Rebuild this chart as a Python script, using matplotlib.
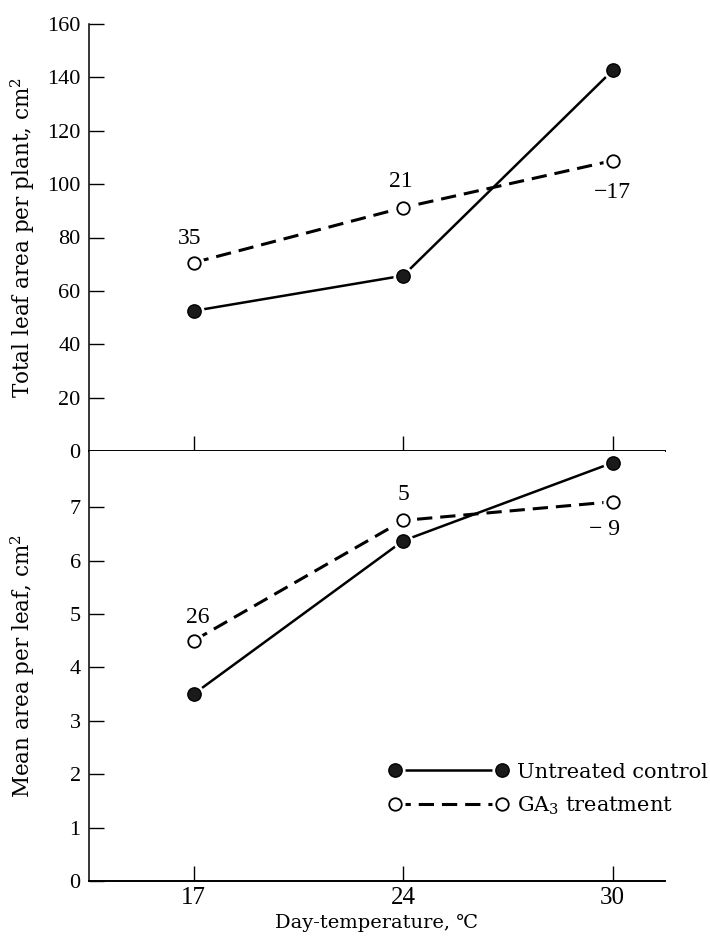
import numpy as np
import matplotlib
matplotlib.use("Agg")
import matplotlib.pyplot as plt
from matplotlib.legend_handler import HandlerTuple

plt.rcParams["font.family"] = ["DejaVu Serif", "DejaVu Sans"]
plt.rcParams["mathtext.fontset"] = "dejavuserif"

# ---------------------------------------------------------------------------
# data
# ---------------------------------------------------------------------------
temps = ["17", "24", "30"]
total_ctrl = [52.5, 65.7, 142.6]      # total leaf area per plant, cm2
total_ga3 = [70.6, 91.2, 108.8]
total_pct = ["35", "21", "\u221217"]
mean_ctrl = [3.5, 6.37, 7.83]         # mean area per leaf, cm2
mean_ga3 = [4.5, 6.75, 7.1]
mean_pct = ["26", "5", "\u2212 9"]

NUMFONT = "Liberation Serif"
pos = np.arange(len(temps))

fig = plt.figure(figsize=(7.1, 9.43), dpi=100)
L, W = 89 / 710, 576 / 710
ax1 = fig.add_axes([L, 1 - 451 / 943, W, 427 / 943])
ax2 = fig.add_axes([L, 1 - 881 / 943, W, 430 / 943])


def draw(ax, yc, yg):
    lc, = ax.plot(pos, yc, "-", color="black", lw=1.8, zorder=2)
    lg, = ax.plot(pos, yg, "--", color="black", lw=2.2, dashes=(5, 2.6), zorder=2)
    halo, = ax.plot(pos, yc, "o", ms=13.5, color="white", zorder=3)
    ax.plot(pos, yg, "o", ms=13.5, color="white", zorder=3)
    mc, = ax.plot(pos, yc, "o", ms=9.6, mfc="#1a1a1a", mec="black", mew=1, zorder=4)
    mg, = ax.plot(pos, yg, "o", ms=9.0, mfc="white", mec="black", mew=1.3, zorder=4)
    return (lc, halo, mc), (lg, halo, mg)


def style(ax):
    ax.set_xlim(-0.5, 2.25)
    ax.spines["top"].set_visible(False)
    ax.spines["right"].set_visible(False)
    ax.spines["left"].set_linewidth(1.1)
    ax.spines["bottom"].set_linewidth(1.4)
    ax.set_xticks(pos)
    ax.tick_params(direction="in", length=11, width=1, labelsize=16, pad=6)
    ax.tick_params(axis="x", labelsize=18, pad=4)
    for t in ax.get_yticklabels() + ax.get_xticklabels():
        t.set_fontfamily(NUMFONT)


# top panel ---------------------------------------------------------------
draw(ax1, total_ctrl, total_ga3)
ax1.set_ylim(0, 160)
ax1.set_yticks(np.arange(0, 161, 20))
style(ax1)
ax1.tick_params(axis="x", labelbottom=False)
ax1.set_ylabel("Total leaf area per plant, cm$^2$", fontsize=15.5)
ax1.yaxis.set_label_coords(-0.09, 0.5)
offs1 = [(-3, 17), (-2, 19), (0, -23)]
for x, y, s, o in zip(pos, total_ga3, total_pct, offs1):
    ax1.annotate(s, (x, y), xytext=o, textcoords="offset points",
                 ha="center", va="center", fontsize=17, family=NUMFONT)

# bottom panel --------------------------------------------------------------
hc, hg = draw(ax2, mean_ctrl, mean_ga3)
ax2.set_ylim(0, 8.05)
ax2.set_yticks(np.arange(0, 8))
style(ax2)
ax2.set_xticklabels(temps)
for t in ax2.get_xticklabels():
    t.set_fontfamily(NUMFONT)
ax2.set_ylabel("Mean area per leaf, cm$^2$", fontsize=15.5)
ax2.yaxis.set_label_coords(-0.09, 0.5)
ax2.set_xlabel("Day-temperature, \u2103", fontsize=14, labelpad=4)
offs2 = [(3, 17), (0, 19), (-6, -20)]
for x, y, s, o in zip(pos, mean_ga3, mean_pct, offs2):
    ax2.annotate(s, (x, y), xytext=o, textcoords="offset points",
                 ha="center", va="center", fontsize=17, family=NUMFONT)

ax2.legend([hc, hg], ["Untreated control", "GA$_3$ treatment"],
           handler_map={tuple: HandlerTuple(ndivide=1)},
           numpoints=2, handlelength=5.76, handletextpad=0.4,
           labelspacing=0.6, fontsize=15, frameon=False,
           loc="upper left", bbox_to_anchor=(0.52, 0.275),
           borderpad=0, borderaxespad=0)

fig.savefig("out.png", dpi=100, facecolor="white")
